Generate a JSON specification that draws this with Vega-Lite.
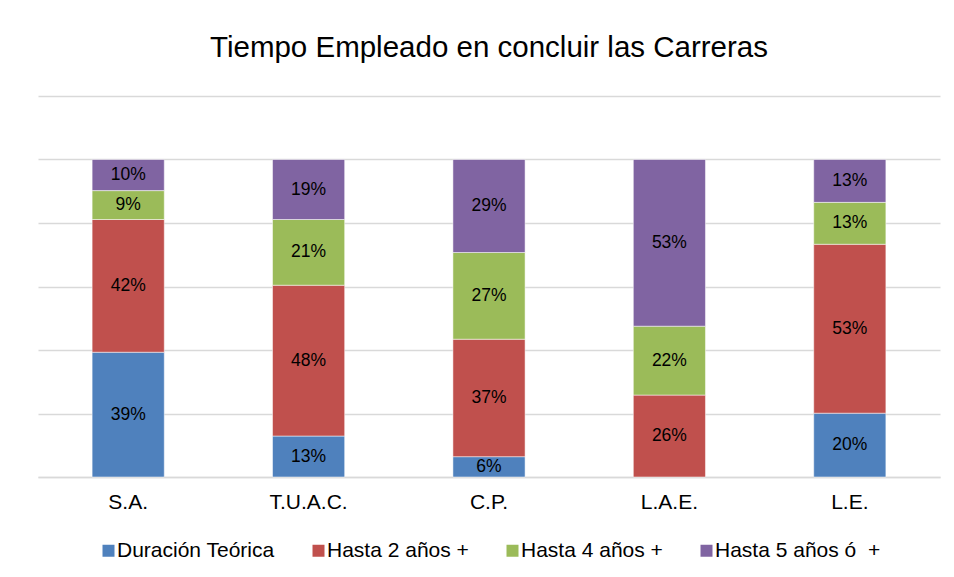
{
  "$schema": "https://vega.github.io/schema/vega-lite/v6.json",
  "width": 902,
  "height": 381,
  "autosize": {"type": "none"},
  "padding": {"left": 38, "top": 96, "right": 14, "bottom": 100},
  "background": "white",
  "title": {
    "text": "Tiempo Empleado en concluir las Carreras",
    "fontSize": 29.5,
    "font": "Liberation Sans",
    "fontWeight": "normal",
    "color": "#000000",
    "anchor": "middle",
    "baseline": "alphabetic",
    "offset": 10
  },
  "data": {
    "values": [
      {"carrera": "S.A.", "serie": "Duración Teórica", "orden": 1, "valor": 39.3, "etiqueta": "39%"},
      {"carrera": "S.A.", "serie": "Hasta 2 años +", "orden": 2, "valor": 41.8, "etiqueta": "42%"},
      {"carrera": "S.A.", "serie": "Hasta 4 años +", "orden": 3, "valor": 9.1, "etiqueta": "9%"},
      {"carrera": "S.A.", "serie": "Hasta 5 años ó\u00a0 +", "orden": 4, "valor": 9.8, "etiqueta": "10%"},
      {"carrera": "T.U.A.C.", "serie": "Duración Teórica", "orden": 1, "valor": 12.9, "etiqueta": "13%"},
      {"carrera": "T.U.A.C.", "serie": "Hasta 2 años +", "orden": 2, "valor": 47.5, "etiqueta": "48%"},
      {"carrera": "T.U.A.C.", "serie": "Hasta 4 años +", "orden": 3, "valor": 20.7, "etiqueta": "21%"},
      {"carrera": "T.U.A.C.", "serie": "Hasta 5 años ó\u00a0 +", "orden": 4, "valor": 18.9, "etiqueta": "19%"},
      {"carrera": "C.P.", "serie": "Duración Teórica", "orden": 1, "valor": 6.4, "etiqueta": "6%"},
      {"carrera": "C.P.", "serie": "Hasta 2 años +", "orden": 2, "valor": 37.0, "etiqueta": "37%"},
      {"carrera": "C.P.", "serie": "Hasta 4 años +", "orden": 3, "valor": 27.3, "etiqueta": "27%"},
      {"carrera": "C.P.", "serie": "Hasta 5 años ó\u00a0 +", "orden": 4, "valor": 29.3, "etiqueta": "29%"},
      {"carrera": "L.A.E.", "serie": "Hasta 2 años +", "orden": 2, "valor": 25.8, "etiqueta": "26%"},
      {"carrera": "L.A.E.", "serie": "Hasta 4 años +", "orden": 3, "valor": 21.7, "etiqueta": "22%"},
      {"carrera": "L.A.E.", "serie": "Hasta 5 años ó\u00a0 +", "orden": 4, "valor": 52.5, "etiqueta": "53%"},
      {"carrera": "L.E.", "serie": "Duración Teórica", "orden": 1, "valor": 20.1, "etiqueta": "20%"},
      {"carrera": "L.E.", "serie": "Hasta 2 años +", "orden": 2, "valor": 53.2, "etiqueta": "53%"},
      {"carrera": "L.E.", "serie": "Hasta 4 años +", "orden": 3, "valor": 13.2, "etiqueta": "13%"},
      {"carrera": "L.E.", "serie": "Hasta 5 años ó\u00a0 +", "orden": 4, "valor": 13.5, "etiqueta": "13%"}
    ]
  },
  "transform": [
    {"stack": "valor", "groupby": ["carrera"], "sort": [{"field": "orden", "order": "ascending"}], "as": ["v0", "v1"]},
    {"calculate": "(datum.v0 + datum.v1) / 2", "as": "vmid"}
  ],
  "encoding": {
    "x": {
      "field": "carrera",
      "type": "nominal",
      "sort": ["S.A.", "T.U.A.C.", "C.P.", "L.A.E.", "L.E."],
      "scale": {"paddingInner": 0.6, "paddingOuter": 0.3},
      "axis": {
        "title": null,
        "labelAngle": 0,
        "ticks": false,
        "domainColor": "#d9d9d9",
        "domainWidth": 1.5,
        "labelFontSize": 21,
        "labelFont": "Liberation Sans",
        "labelColor": "#000000",
        "labelPadding": 14
      }
    }
  },
  "layer": [
    {
      "mark": {"type": "bar", "stroke": "white", "strokeWidth": 1, "strokeOpacity": 0.5},
      "encoding": {
        "y": {
          "field": "v0",
          "type": "quantitative",
          "scale": {"domain": [0, 120], "nice": false},
          "axis": {
            "title": null,
            "labels": false,
            "ticks": false,
            "domain": false,
            "grid": true,
            "gridColor": "#d9d9d9",
            "gridWidth": 1.5,
            "values": [0, 20, 40, 60, 80, 100, 120]
          }
        },
        "y2": {"field": "v1"},
        "color": {
          "field": "serie",
          "type": "nominal",
          "scale": {
            "domain": ["Duración Teórica", "Hasta 2 años +", "Hasta 4 años +", "Hasta 5 años ó\u00a0 +"],
            "range": ["#4F81BD", "#C0504D", "#9BBB59", "#8064A2"]
          },
          "legend": {
            "title": null,
            "orient": "none",
            "legendX": 60,
            "legendY": 444,
            "direction": "horizontal",
            "symbolType": "square",
            "symbolSize": 144,
            "symbolStrokeWidth": 0,
            "labelFontSize": 21,
            "labelFont": "Liberation Sans",
            "labelColor": "#000000",
            "labelOffset": -2,
            "labelLimit": 400,
            "columnPadding": 33
          }
        }
      }
    },
    {
      "mark": {"type": "text", "fontSize": 17.5, "font": "Liberation Sans", "color": "#000000", "baseline": "middle", "align": "center"},
      "encoding": {
        "y": {"field": "vmid", "type": "quantitative", "scale": {"domain": [0, 120], "nice": false}},
        "text": {"field": "etiqueta", "type": "nominal"}
      }
    }
  ],
  "config": {"view": {"stroke": null}}
}
